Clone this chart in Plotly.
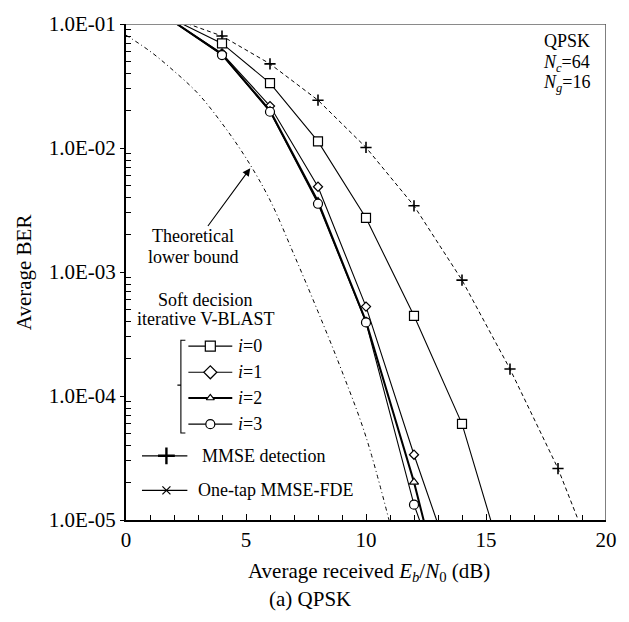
import plotly.graph_objects as go

# ---------------- data ----------------
snr_mmse = [2, 4, 6, 8, 10, 12, 14, 16, 18, 20]
ber_mmse = [0.11, 0.080, 0.0477, 0.0243, 0.0101, 3.42e-3, 8.6e-4, 1.65e-4, 2.6e-5, 2.7e-6]

snr_i0 = [2, 4, 6, 8, 10, 12, 14, 16]
ber_i0 = [0.108, 0.0697, 0.0334, 0.0113, 2.73e-3, 4.43e-4, 5.96e-5, 3.0e-6]

snr_i = [2, 4, 6, 8, 10, 12, 14]
ber_i1 = [0.104, 0.058, 0.0218, 4.87e-3, 5.26e-4, 3.36e-5, 2.55e-6]
ber_i2 = [0.104, 0.057, 0.0200, 3.7e-3, 4.0e-4, 2.02e-5, 6.0e-7]
ber_i3 = [0.103, 0.0562, 0.0196, 3.55e-3, 3.92e-4, 1.33e-5, 1.1e-6]

snr_theory = [0, 1, 2, 3, 4, 5, 6, 7, 8, 9, 10, 11]
ber_theory = [0.0813, 0.0603, 0.0417, 0.0275, 0.0158, 0.0083, 0.0038, 0.00138,
              4.79e-4, 1.58e-4, 4.68e-5, 9.3e-6]

y_tickvals = [1e-5, 1e-4, 1e-3, 1e-2, 1e-1]
y_ticktext = ["1.0E-05", "1.0E-04", "1.0E-03", "1.0E-02", "1.0E-01"]
x_tickvals = [0, 5, 10, 15, 20]

# ---------------- layout geometry (pixels) ----------------
W, H = 629, 622
L, R, T, B = 126, 607, 18, 520
FONT = "Liberation Serif, Times New Roman, serif"
YMIN, YMAX = 1e-5, 1e-1

y_minor = [m * d for d in y_tickvals[:-1] for m in range(2, 10)]


def in_range(xs, ys):
    pts = [(x, y) for x, y in zip(xs, ys) if YMIN <= y <= YMAX]
    return [p[0] for p in pts], [p[1] for p in pts]


def pxp(x):
    return (x - L) / (R - L)


def pyp(y):
    return (B - y) / (B - T)


fig = go.Figure()

# theoretical lower bound
fig.add_trace(go.Scatter(x=snr_theory, y=ber_theory, mode="lines",
                         line=dict(color="black", width=1, dash="4px,3px,1px,3px", shape="spline"),
                         showlegend=False))

# MMSE detection (dashed with +)
fig.add_trace(go.Scatter(x=snr_mmse, y=ber_mmse, mode="lines",
                         line=dict(color="black", width=1, dash="4px,3px"), showlegend=False))
mx, my = in_range(snr_mmse, ber_mmse)
fig.add_trace(go.Scatter(x=mx, y=my, mode="markers",
                         marker=dict(symbol="cross-thin", size=8, line=dict(color="black", width=1.6)),
                         showlegend=False))


def series(xs, ys, symbol, size, lw):
    fig.add_trace(go.Scatter(x=xs, y=ys, mode="lines",
                             line=dict(color="black", width=lw), showlegend=False))
    sx, sy = in_range(xs, ys)
    fig.add_trace(go.Scatter(x=sx, y=sy, mode="markers",
                             marker=dict(symbol=symbol, size=size, color="white",
                                         line=dict(color="black", width=1.2)),
                             showlegend=False))


series(snr_i0, ber_i0, "square", 9, 1.1)
series(snr_i, ber_i1, "diamond", 7, 1.1)
series(snr_i, ber_i2, "triangle-up", 8, 2.0)
series(snr_i, ber_i3, "circle", 9, 1.1)

# ---------------- legend drawn in a pixel overlay ----------------
def leg_line(x0, x1, y, lw):
    fig.add_trace(go.Scatter(x=[x0, x1], y=[y, y], mode="lines", xaxis="x2", yaxis="y2",
                             line=dict(color="black", width=lw), cliponaxis=False,
                             showlegend=False, hoverinfo="skip"))


def leg_marker(x, y, symbol, size, lw=1.2, fill="white"):
    fig.add_trace(go.Scatter(x=[x], y=[y], mode="markers", xaxis="x2", yaxis="y2",
                             marker=dict(symbol=symbol, size=size, color=fill,
                                         line=dict(color="black", width=lw)),
                             cliponaxis=False, showlegend=False, hoverinfo="skip"))


legend_rows = [
    ("<i>i</i>=0", 344, "square", 10, 1.1),
    ("<i>i</i>=1", 370.5, "diamond", 10, 1.1),
    ("<i>i</i>=2", 396.5, "triangle-up", 7, 2.2),
    ("<i>i</i>=3", 423, "circle", 9, 1.1),
]
for label, y, sym, size, lw in legend_rows:
    leg_line(188.5, 232.5, y, lw)
    leg_marker(210.5, y, sym, size)

leg_line(142, 187.5, 455, 1.2)
leg_marker(166.5, 455, "cross-thin", 12, lw=2.4)
leg_line(142, 187.5, 490, 1.2)
leg_marker(166.5, 490, "x-thin", 8, lw=1.2)

annotations = []


def text(x, y, s, size=18, xanchor="center", angle=0):
    annotations.append(dict(x=pxp(x), y=pyp(y), xref="paper", yref="paper", text=s,
                            showarrow=False, xanchor=xanchor, yanchor="middle", textangle=angle,
                            font=dict(family=FONT, size=size, color="black")))


for label, y, sym, size, lw in legend_rows:
    text(236.5, y, label, xanchor="left")
text(200, 455, "MMSE detection", xanchor="left")
text(196.5, 490, "One-tap MMSE-FDE", xanchor="left")
text(205.5, 297, "Soft decision")
text(206, 317, "iterative V-BLAST")
text(193, 233, "Theoretical")
text(193, 254, "lower bound")
text(593, 35, "QPSK", xanchor="right")
text(593, 57.5, "<i>N</i><sub><i>c</i></sub>=64", xanchor="right")
text(593, 78, "<i>N</i><sub><i>g</i></sub>=16", xanchor="right")
text(24, 269, "Average BER", size=21, angle=-90)
text(370, 573, "Average received <i>E</i><sub><i>b</i></sub>/<i>N</i><sub>0</sub> (dB)", size=21)
text(310, 600, "(a) QPSK", size=21)

annotations.append(dict(x=250.5, y=164, ax=207, ay=224, xref="x2", yref="y2",
                        axref="x2", ayref="y2", showarrow=True, arrowhead=2,
                        arrowsize=1.4, arrowwidth=1.1, arrowcolor="black", text=""))

shapes = [
    # bracket
    dict(type="path", xref="x2", yref="y2",
         path="M 185.5 338 L 181 338 L 181 432 L 185.5 432 M 181 383.5 L 177.5 383.5",
         line=dict(color="black", width=1.1)),
    # top and right frame
    dict(type="line", xref="x2", yref="y2", x0=L, x1=R, y0=T, y1=T,
         line=dict(color="#8a8a8a", width=2)),
    dict(type="line", xref="x2", yref="y2", x0=R, x1=R, y0=T, y1=B,
         line=dict(color="#555555", width=1.5)),
]

fig.update_layout(
    width=W, height=H,
    margin=dict(l=L, r=W - R, t=T, b=H - B, pad=0),
    paper_bgcolor="white", plot_bgcolor="white",
    font=dict(family=FONT, size=21, color="black"),
    showlegend=False,
    annotations=annotations,
    shapes=shapes,
    xaxis=dict(range=[0, 20], tickvals=x_tickvals, ticks="inside", ticklen=6, tickwidth=1,
               tickcolor="black", showgrid=False, zeroline=False,
               showline=True, linecolor="black", linewidth=2,
               minor=dict(ticks="inside", ticklen=5, dtick=1, tickcolor="black", showgrid=False),
               tickfont=dict(family=FONT, size=21, color="black")),
    yaxis=dict(type="log", range=[-5, -1], tickvals=y_tickvals, ticktext=y_ticktext,
               ticks="outside", ticklen=4, tickwidth=1, tickcolor="black",
               showgrid=False, zeroline=False, showline=True, linecolor="black", linewidth=2,
               minor=dict(ticks="inside", ticklen=5, tickvals=y_minor, tickcolor="black",
                          showgrid=False),
               tickfont=dict(family=FONT, size=21, color="black")),
    xaxis2=dict(overlaying="x", anchor="y2", range=[L, R], visible=False, fixedrange=True),
    yaxis2=dict(overlaying="y", anchor="x2", range=[B, T], visible=False, fixedrange=True),
)

fig.write_html("out.html")
